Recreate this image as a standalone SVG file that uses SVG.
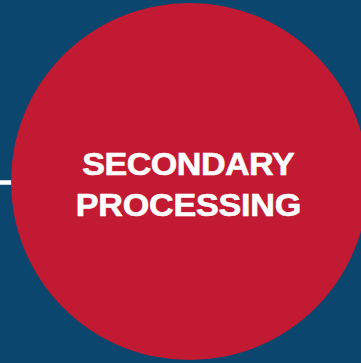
<svg xmlns="http://www.w3.org/2000/svg" width="361" height="363" viewBox="0 0 361 363">
<style>
.bg{fill:#0b466e}
.circle{fill:#c21a32}
.conn{stroke:#ffffff;stroke-width:4.5;fill:none}
.label{font-family:"Liberation Sans",Arial,sans-serif;font-weight:bold;font-size:31px;fill:#ffffff;stroke:#ffffff;stroke-width:0.6;text-anchor:middle}
</style>
<rect class="bg" x="0" y="0" width="361" height="363"/>
<g id="connectors">
<line class="conn" x1="0" y1="182.5" x2="20" y2="182.5"/>
</g>
<g id="node-secondary-processing">
<circle class="circle" cx="189.5" cy="181.5" r="178.5"/>
<g transform="translate(188.5 0) scale(1.1 1)">
<text class="label" x="0" y="175" textLength="193" lengthAdjust="spacing">SECONDARY</text>
<text class="label" x="0" y="216" textLength="205" lengthAdjust="spacing">PROCESSING</text>
</g>
</g>
</svg>
